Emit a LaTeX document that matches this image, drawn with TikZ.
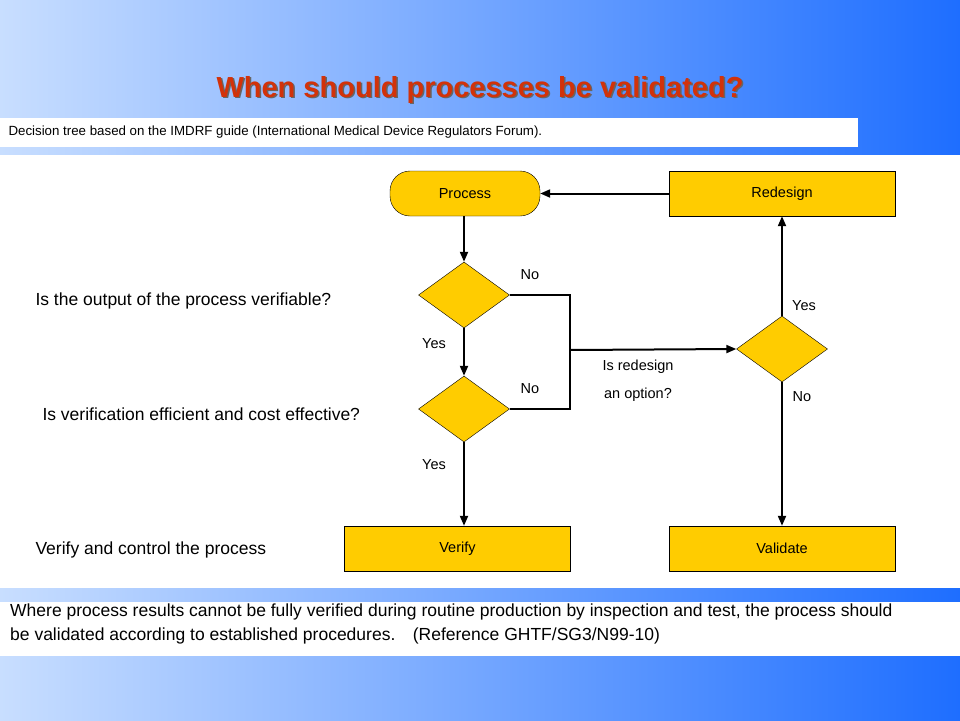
\documentclass[tikz,border=0pt]{standalone}
\usepackage{fontspec}
\setmainfont{Liberation Sans}
\usetikzlibrary{shapes.geometric,arrows.meta}
\begin{document}
\begin{tikzpicture}[x=1pt,y=-1pt,
 box/.style={draw=black,fill=boxy,minimum width=226pt,minimum height=45pt,font=\fontsize{14.5}{17}\selectfont},
 dia/.style={draw=black,fill=boxy,diamond,minimum width=91pt,minimum height=66pt,inner sep=0pt},
 lab/.style={font=\fontsize{14.5}{17}\selectfont},
 q/.style={font=\fontsize{17.5}{20}\selectfont,anchor=west},
 arr/.style={-{Triangle[length=10pt,width=8pt]},line width=2pt},
 ln/.style={line width=2pt}]
\definecolor{boxy}{RGB}{255,204,0}
\definecolor{bgl}{RGB}{200,222,255}
\definecolor{bgd}{RGB}{30,110,255}
\definecolor{tred}{RGB}{210,50,10}
\shade[left color=bgl,right color=bgd] (0,0) rectangle (960,720);
\useasboundingbox (0,0) rectangle (960,720);
\fill[white] (0,118) rectangle (858,147);
\fill[white] (0,155) rectangle (960,588);
\fill[white] (0,602) rectangle (960,656);
\node[text=black!60,font=\bfseries\fontsize{29}{33}\selectfont] at (481.5,91.5) {When should processes be validated?};
\node[text=tred,font=\bfseries\fontsize{29}{33}\selectfont] (title) at (480,90) {When should processes be validated?};
\node[anchor=west,font=\fontsize{13.3}{15}\selectfont] (sub) at (5,132) {Decision tree based on the IMDRF guide (International Medical Device Regulators Forum).};
\node[draw=black,fill=boxy,rounded corners=20pt,minimum width=150pt,minimum height=45pt,font=\fontsize{14.5}{17}\selectfont] (proc) at (465,193.5) {Process};
\node[box] (red) at (782,193.5) {Redesign};
\node[box] (ver) at (457.5,548.5) {Verify};
\node[box] (val) at (782,548.5) {Validate};
\node[dia] (d1) at (464,295) {};
\node[dia] (d2) at (464,409) {};
\node[dia] (d3) at (782,349) {};
\coordinate (j1) at (570,295);
\coordinate (j2) at (570,409);
\coordinate (j3) at (570,350);
\draw[arr] (proc.south -| d1.north) -- (d1.north);
\draw[arr] (d1.south) -- (d2.north);
\draw[arr] (d2.south) -- (ver.north -| d2.south);
\draw[ln] (d1.east) -- (j1) -- (j2) -- (d2.east);
\draw[arr] (j3) -- (d3.west);
\draw[arr] (d3.north) -- (red.south);
\draw[arr] (red.west) -- (proc.east);
\draw[arr] (d3.south) -- (val.north);
\node[lab] at (530,275) {No};
\node[lab] at (434,344) {Yes};
\node[lab] at (530,389) {No};
\node[lab] at (434,465) {Yes};
\node[lab] at (638,367) {Is redesign};
\node[lab] at (638,395) {an option?};
\node[lab] at (804,306) {Yes};
\node[lab] at (802,397) {No};
\node[q] at (32,301) {Is the output of the process verifiable?};
\node[q] at (39,414) {Is verification efficient and cost effective?};
\node[q] at (32,550) {Verify and control the process};
\node[anchor=north west,align=left,font=\fontsize{17.5}{24}\selectfont,inner sep=0pt] at (10,604) {Where process results cannot be fully verified during routine production by inspection and test, the process should\\be validated according to established procedures.\quad (Reference GHTF/SG3/N99-10)};
\end{tikzpicture}
\end{document}
